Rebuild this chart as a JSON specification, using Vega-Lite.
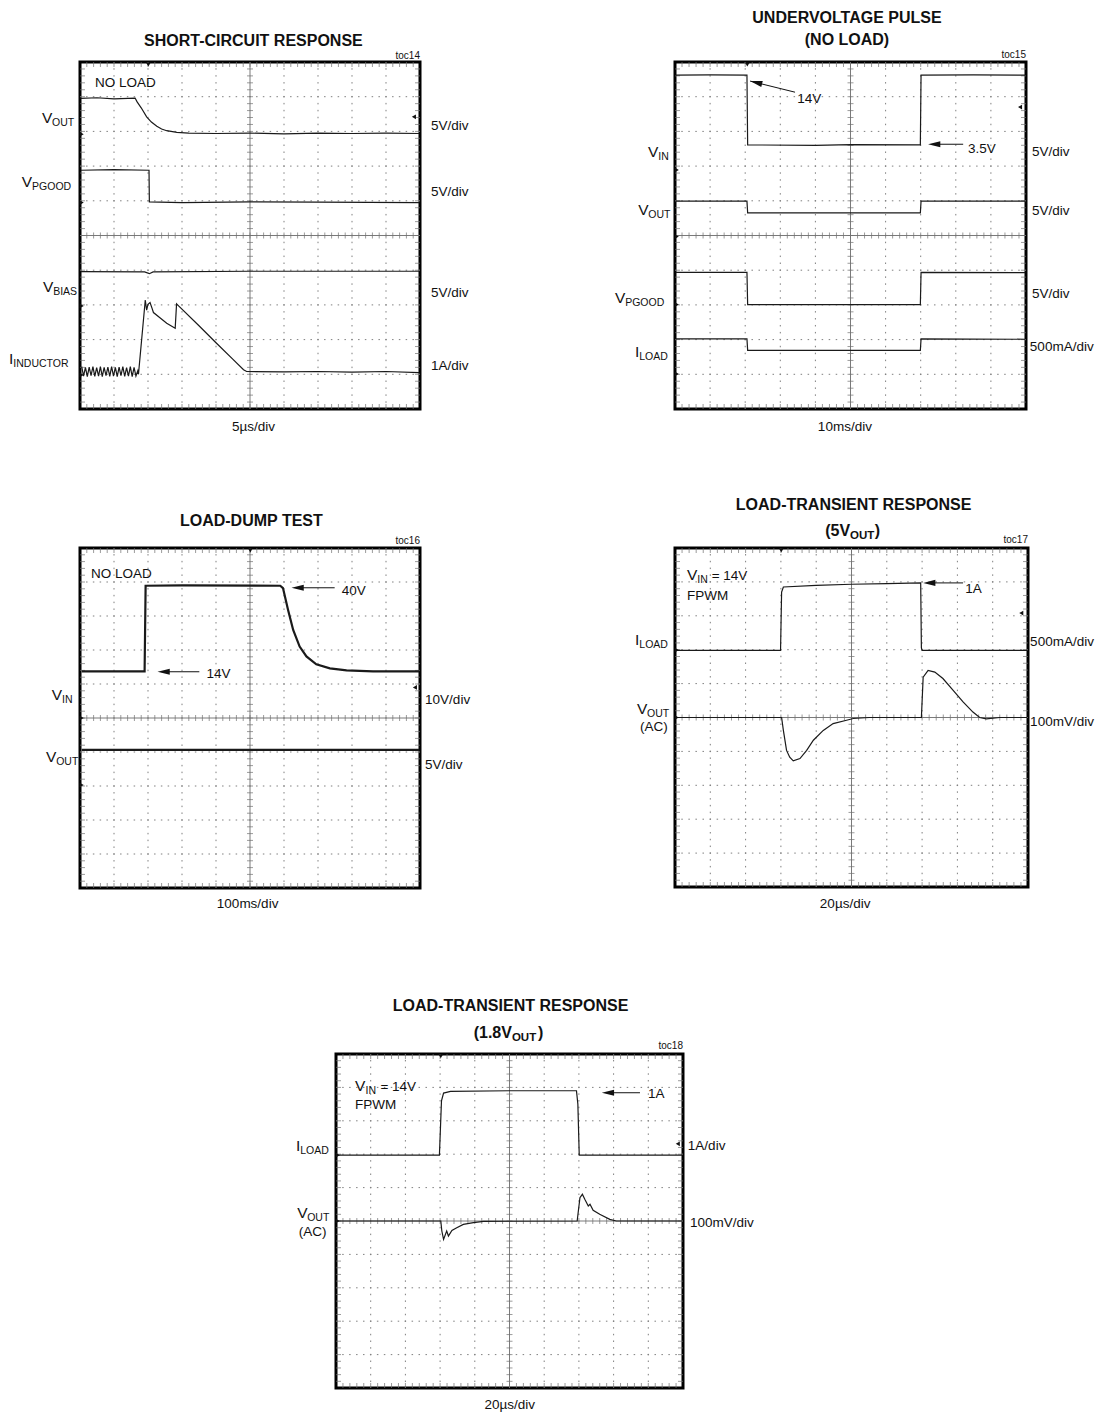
{
"$schema": "https://vega.github.io/schema/vega-lite/v6.json",
"padding": {"left": 7, "top": 8, "right": 2, "bottom": 0},
"config": {
  "view": {"stroke": null},
  "text": {"font": "Liberation Sans", "fontSize": 13.5, "align": "left", "baseline": "alphabetic", "color": "#111111"}
},
"datasets": {
  "ticks": [{"p":0.2},{"p":0.4},{"p":0.6},{"p":0.8},{"p":1.0},{"p":1.2},{"p":1.4},{"p":1.6},{"p":1.8},{"p":2.0},{"p":2.2},{"p":2.4},{"p":2.6},{"p":2.8},{"p":3.0},{"p":3.2},{"p":3.4},{"p":3.6},{"p":3.8},{"p":4.0},{"p":4.2},{"p":4.4},{"p":4.6},{"p":4.8},{"p":5.0},{"p":5.2},{"p":5.4},{"p":5.6},{"p":5.8},{"p":6.0},{"p":6.2},{"p":6.4},{"p":6.6},{"p":6.8},{"p":7.0},{"p":7.2},{"p":7.4},{"p":7.6},{"p":7.8},{"p":8.0},{"p":8.2},{"p":8.4},{"p":8.6},{"p":8.8},{"p":9.0},{"p":9.2},{"p":9.4},{"p":9.6},{"p":9.8}],
  "grid": [{"g":1},{"g":2},{"g":3},{"g":4},{"g":6},{"g":7},{"g":8},{"g":9}]
},
"spacing": 83,
"vconcat": [
{
"spacing": 59,
"vconcat": [
{
"spacing": 255,
"bounds": "flush",
"hconcat": [
{
 "width": 340, "height": 347,
 "view": {"stroke": "#000000", "strokeWidth": 3},
 "layer": [
  {"data": {"name": "grid"}, "mark": {"type": "rule", "color": "#7f7f7f", "strokeWidth": 1, "strokeDash": [1.5, 5.44], "strokeDashOffset": 0.75}, "encoding": {"x": {"field": "g", "type": "quantitative", "axis": null, "scale": {"domain": [0, 10], "nice": false, "zero": false}}}},
  {"data": {"name": "grid"}, "mark": {"type": "rule", "color": "#7f7f7f", "strokeWidth": 1, "strokeDash": [1.5, 5.3], "strokeDashOffset": 0.75}, "encoding": {"y": {"field": "g", "type": "quantitative", "axis": null, "scale": {"domain": [0, 10], "nice": false, "zero": false}}}},
  {"data": {"values": [{}]}, "mark": {"type": "rule", "color": "#7a7a7a", "strokeWidth": 1}, "encoding": {"x": {"datum": 5, "axis": null}}},
  {"data": {"values": [{}]}, "mark": {"type": "rule", "color": "#7a7a7a", "strokeWidth": 1}, "encoding": {"y": {"datum": 5, "axis": null}}},
  {"data": {"name": "ticks"}, "mark": {"type": "tick", "orient": "vertical", "size": 10, "thickness": 1, "color": "#707070", "clip": true}, "encoding": {"x": {"field": "p", "type": "quantitative", "axis": null}, "y": {"datum": 0, "axis": null}}},
  {"data": {"name": "ticks"}, "mark": {"type": "tick", "orient": "vertical", "size": 10, "thickness": 1, "color": "#707070", "clip": true}, "encoding": {"x": {"field": "p", "type": "quantitative", "axis": null}, "y": {"datum": 10, "axis": null}}},
  {"data": {"name": "ticks"}, "mark": {"type": "tick", "orient": "vertical", "size": 6, "thickness": 1, "color": "#707070"}, "encoding": {"x": {"field": "p", "type": "quantitative", "axis": null}, "y": {"datum": 5, "axis": null}}},
  {"data": {"name": "ticks"}, "mark": {"type": "tick", "orient": "horizontal", "size": 10, "thickness": 1, "color": "#707070", "clip": true}, "encoding": {"y": {"field": "p", "type": "quantitative", "axis": null}, "x": {"datum": 0, "axis": null}}},
  {"data": {"name": "ticks"}, "mark": {"type": "tick", "orient": "horizontal", "size": 10, "thickness": 1, "color": "#707070", "clip": true}, "encoding": {"y": {"field": "p", "type": "quantitative", "axis": null}, "x": {"datum": 10, "axis": null}}},
  {"data": {"name": "ticks"}, "mark": {"type": "tick", "orient": "horizontal", "size": 6, "thickness": 1, "color": "#707070"}, "encoding": {"y": {"field": "p", "type": "quantitative", "axis": null}, "x": {"datum": 5, "axis": null}}},
  {"data": {"values": [
    {"s":"vout","x":0.02,"y":8.95},{"s":"vout","x":0.5,"y":8.97},{"s":"vout","x":1.0,"y":8.94},{"s":"vout","x":1.62,"y":8.96},{"s":"vout","x":1.68,"y":8.85},{"s":"vout","x":1.80,"y":8.68},{"s":"vout","x":1.96,"y":8.42},{"s":"vout","x":2.10,"y":8.27},{"s":"vout","x":2.26,"y":8.15},{"s":"vout","x":2.40,"y":8.07},{"s":"vout","x":2.55,"y":8.02},{"s":"vout","x":2.85,"y":7.97},{"s":"vout","x":3.2,"y":7.95},{"s":"vout","x":4.0,"y":7.94},{"s":"vout","x":5.0,"y":7.95},{"s":"vout","x":6.0,"y":7.93},{"s":"vout","x":7.0,"y":7.95},{"s":"vout","x":8.0,"y":7.94},{"s":"vout","x":9.0,"y":7.95},{"s":"vout","x":9.98,"y":7.94},
    {"s":"pgood","x":0.02,"y":6.88},{"s":"pgood","x":1.0,"y":6.90},{"s":"pgood","x":2.03,"y":6.88},{"s":"pgood","x":2.04,"y":5.97},{"s":"pgood","x":3.0,"y":5.95},{"s":"pgood","x":5.0,"y":5.97},{"s":"pgood","x":7.0,"y":5.96},{"s":"pgood","x":9.98,"y":5.95},
    {"s":"bias","x":0.02,"y":3.96},{"s":"bias","x":1.9,"y":3.95},{"s":"bias","x":2.04,"y":3.90},{"s":"bias","x":2.15,"y":3.95},{"s":"bias","x":5.0,"y":3.97},{"s":"bias","x":9.98,"y":3.97},
    {"s":"ind","x":0.05,"y":1.22},{"s":"ind","x":0.105,"y":0.95},{"s":"ind","x":0.16,"y":1.20},{"s":"ind","x":0.215,"y":0.93},{"s":"ind","x":0.27,"y":1.21},{"s":"ind","x":0.325,"y":0.96},{"s":"ind","x":0.38,"y":1.22},{"s":"ind","x":0.435,"y":0.94},{"s":"ind","x":0.49,"y":1.19},{"s":"ind","x":0.545,"y":0.95},{"s":"ind","x":0.60,"y":1.22},{"s":"ind","x":0.655,"y":0.93},{"s":"ind","x":0.71,"y":1.20},{"s":"ind","x":0.765,"y":0.96},{"s":"ind","x":0.82,"y":1.21},{"s":"ind","x":0.875,"y":0.94},{"s":"ind","x":0.93,"y":1.22},{"s":"ind","x":0.985,"y":0.95},{"s":"ind","x":1.04,"y":1.20},{"s":"ind","x":1.095,"y":0.93},{"s":"ind","x":1.15,"y":1.21},{"s":"ind","x":1.205,"y":0.96},{"s":"ind","x":1.26,"y":1.22},{"s":"ind","x":1.315,"y":0.94},{"s":"ind","x":1.37,"y":1.19},{"s":"ind","x":1.425,"y":0.95},{"s":"ind","x":1.48,"y":1.22},{"s":"ind","x":1.535,"y":0.93},{"s":"ind","x":1.59,"y":1.20},{"s":"ind","x":1.645,"y":0.95},{"s":"ind","x":1.70,"y":1.10},{"s":"ind","x":1.72,"y":1.0},{"s":"ind","x":1.92,"y":3.14},{"s":"ind","x":1.96,"y":2.85},{"s":"ind","x":2.0,"y":3.02},{"s":"ind","x":2.06,"y":3.07},{"s":"ind","x":2.12,"y":2.9},{"s":"ind","x":2.16,"y":2.78},{"s":"ind","x":2.36,"y":2.62},{"s":"ind","x":2.55,"y":2.47},{"s":"ind","x":2.80,"y":2.33},{"s":"ind","x":2.84,"y":3.03},{"s":"ind","x":2.90,"y":2.97},{"s":"ind","x":3.5,"y":2.40},{"s":"ind","x":4.0,"y":1.91},{"s":"ind","x":4.5,"y":1.43},{"s":"ind","x":4.81,"y":1.13},{"s":"ind","x":4.9,"y":1.08},{"s":"ind","x":6.0,"y":1.07},{"s":"ind","x":7.0,"y":1.08},{"s":"ind","x":8.0,"y":1.06},{"s":"ind","x":9.0,"y":1.08},{"s":"ind","x":9.98,"y":1.05}
   ]},
   "mark": {"type": "line", "color": "#1a1a1a", "strokeWidth": 1.2},
   "encoding": {"x": {"field": "x", "type": "quantitative", "axis": null}, "y": {"field": "y", "type": "quantitative", "axis": null}, "detail": {"field": "s", "type": "nominal"}}},
  {"data": {"values": [{"k":"g","x":0.05,"y":7.92},{"k":"g","x":0.05,"y":5.95},{"k":"g","x":0.05,"y":2.97},{"k":"g","x":0.05,"y":0.98},{"k":"t","x":2.01,"y":9.93},{"k":"l","x":9.82,"y":8.42}]},
   "mark": {"type": "point", "filled": true, "color": "#111111", "size": 22, "opacity": 1},
   "encoding": {"x": {"field": "x", "type": "quantitative", "axis": null}, "y": {"field": "y", "type": "quantitative", "axis": null}, "shape": {"field": "k", "type": "nominal", "scale": {"domain": ["g", "t", "l"], "range": ["triangle-right", "triangle-down", "triangle-left"]}, "legend": null}}},
  {"data": {"values": [{"t":"V","x":-1.12,"y":8.24},{"t":"V","x":-1.71,"y":6.40},{"t":"V","x":-1.09,"y":3.37},{"t":"I","x":-2.09,"y":1.30}]},
   "mark": {"type": "text", "fontSize": 15.5},
   "encoding": {"x": {"field": "x", "type": "quantitative", "axis": null}, "y": {"field": "y", "type": "quantitative", "axis": null}, "text": {"field": "t", "type": "nominal"}}},
  {"data": {"values": [{"t":"5V/div","x":10.32,"y":8.04},{"t":"5V/div","x":10.32,"y":6.14},{"t":"5V/div","x":10.32,"y":3.23},{"t":"1A/div","x":10.32,"y":1.12},{"t":"NO LOAD","x":0.44,"y":9.28}]},
   "mark": {"type": "text"},
   "encoding": {"x": {"field": "x", "type": "quantitative", "axis": null}, "y": {"field": "y", "type": "quantitative", "axis": null}, "text": {"field": "t", "type": "nominal"}}},
  {"data": {"values": [{"t":"OUT","x":-0.82,"y":8.24},{"t":"PGOOD","x":-1.41,"y":6.40},{"t":"BIAS","x":-0.79,"y":3.37},{"t":"INDUCTOR","x":-1.96,"y":1.30}]},
   "mark": {"type": "text", "fontSize": 10.5, "dy": 3},
   "encoding": {"x": {"field": "x", "type": "quantitative", "axis": null}, "y": {"field": "y", "type": "quantitative", "axis": null}, "text": {"field": "t", "type": "nominal"}}},
  {"data": {"values": [{"t":"5µs/div","x":5.1,"y":-0.63}]},
   "mark": {"type": "text", "align": "center"},
   "encoding": {"x": {"field": "x", "type": "quantitative", "axis": null}, "y": {"field": "y", "type": "quantitative", "axis": null}, "text": {"field": "t", "type": "nominal"}}},
  {"data": {"values": [{"t":"toc14","x":10,"y":10.09}]},
   "mark": {"type": "text", "align": "right", "fontSize": 10},
   "encoding": {"x": {"field": "x", "type": "quantitative", "axis": null}, "y": {"field": "y", "type": "quantitative", "axis": null}, "text": {"field": "t", "type": "nominal"}}},
  {"data": {"values": [{"t":"SHORT-CIRCUIT RESPONSE","x":5.1,"y":10.46}]},
   "mark": {"type": "text", "align": "center", "fontSize": 16, "fontWeight": "bold"},
   "encoding": {"x": {"field": "x", "type": "quantitative", "axis": null}, "y": {"field": "y", "type": "quantitative", "axis": null}, "text": {"field": "t", "type": "nominal"}}}
 ]
},
{
 "width": 351, "height": 347,
 "view": {"stroke": "#000000", "strokeWidth": 3},
 "layer": [
  {"data": {"name": "grid"}, "mark": {"type": "rule", "color": "#7f7f7f", "strokeWidth": 1, "strokeDash": [1.5, 5.44], "strokeDashOffset": 0.75}, "encoding": {"x": {"field": "g", "type": "quantitative", "axis": null, "scale": {"domain": [0, 10], "nice": false, "zero": false}}}},
  {"data": {"name": "grid"}, "mark": {"type": "rule", "color": "#7f7f7f", "strokeWidth": 1, "strokeDash": [1.5, 5.52], "strokeDashOffset": 0.75}, "encoding": {"y": {"field": "g", "type": "quantitative", "axis": null, "scale": {"domain": [0, 10], "nice": false, "zero": false}}}},
  {"data": {"values": [{}]}, "mark": {"type": "rule", "color": "#7a7a7a", "strokeWidth": 1}, "encoding": {"x": {"datum": 5, "axis": null}}},
  {"data": {"values": [{}]}, "mark": {"type": "rule", "color": "#7a7a7a", "strokeWidth": 1}, "encoding": {"y": {"datum": 5, "axis": null}}},
  {"data": {"name": "ticks"}, "mark": {"type": "tick", "orient": "vertical", "size": 10, "thickness": 1, "color": "#707070", "clip": true}, "encoding": {"x": {"field": "p", "type": "quantitative", "axis": null}, "y": {"datum": 0, "axis": null}}},
  {"data": {"name": "ticks"}, "mark": {"type": "tick", "orient": "vertical", "size": 10, "thickness": 1, "color": "#707070", "clip": true}, "encoding": {"x": {"field": "p", "type": "quantitative", "axis": null}, "y": {"datum": 10, "axis": null}}},
  {"data": {"name": "ticks"}, "mark": {"type": "tick", "orient": "vertical", "size": 6, "thickness": 1, "color": "#707070"}, "encoding": {"x": {"field": "p", "type": "quantitative", "axis": null}, "y": {"datum": 5, "axis": null}}},
  {"data": {"name": "ticks"}, "mark": {"type": "tick", "orient": "horizontal", "size": 10, "thickness": 1, "color": "#707070", "clip": true}, "encoding": {"y": {"field": "p", "type": "quantitative", "axis": null}, "x": {"datum": 0, "axis": null}}},
  {"data": {"name": "ticks"}, "mark": {"type": "tick", "orient": "horizontal", "size": 10, "thickness": 1, "color": "#707070", "clip": true}, "encoding": {"y": {"field": "p", "type": "quantitative", "axis": null}, "x": {"datum": 10, "axis": null}}},
  {"data": {"name": "ticks"}, "mark": {"type": "tick", "orient": "horizontal", "size": 6, "thickness": 1, "color": "#707070"}, "encoding": {"y": {"field": "p", "type": "quantitative", "axis": null}, "x": {"datum": 5, "axis": null}}},
  {"data": {"values": [
    {"s":"vin","x":0.02,"y":9.62},{"s":"vin","x":1.0,"y":9.63},{"s":"vin","x":2.05,"y":9.62},{"s":"vin","x":2.07,"y":7.61},{"s":"vin","x":4.0,"y":7.60},{"s":"vin","x":5.0,"y":7.62},{"s":"vin","x":6.99,"y":7.61},{"s":"vin","x":7.01,"y":9.62},{"s":"vin","x":8.5,"y":9.63},{"s":"vin","x":9.98,"y":9.62},
    {"s":"vout","x":0.02,"y":5.99},{"s":"vout","x":2.05,"y":5.99},{"s":"vout","x":2.07,"y":5.65},{"s":"vout","x":6.99,"y":5.65},{"s":"vout","x":7.01,"y":5.99},{"s":"vout","x":9.98,"y":5.99},
    {"s":"pgood","x":0.02,"y":3.94},{"s":"pgood","x":2.05,"y":3.94},{"s":"pgood","x":2.07,"y":3.01},{"s":"pgood","x":6.99,"y":3.01},{"s":"pgood","x":7.01,"y":3.94},{"s":"pgood","x":9.98,"y":3.93},
    {"s":"iload","x":0.02,"y":2.02},{"s":"iload","x":2.05,"y":2.02},{"s":"iload","x":2.07,"y":1.69},{"s":"iload","x":6.99,"y":1.69},{"s":"iload","x":7.01,"y":2.02},{"s":"iload","x":9.98,"y":2.01}
   ]},
   "mark": {"type": "line", "color": "#1a1a1a", "strokeWidth": 1.2},
   "encoding": {"x": {"field": "x", "type": "quantitative", "axis": null}, "y": {"field": "y", "type": "quantitative", "axis": null}, "detail": {"field": "s", "type": "nominal"}}},
  {"data": {"values": [{"k":"g","x":0.05,"y":6.89},{"k":"g","x":0.05,"y":4.97},{"k":"g","x":0.05,"y":3.01},{"k":"g","x":0.05,"y":1.01},{"k":"t","x":2.06,"y":9.93},{"k":"l","x":9.83,"y":8.70}]},
   "mark": {"type": "point", "filled": true, "color": "#111111", "size": 22, "opacity": 1},
   "encoding": {"x": {"field": "x", "type": "quantitative", "axis": null}, "y": {"field": "y", "type": "quantitative", "axis": null}, "shape": {"field": "k", "type": "nominal", "scale": {"domain": ["g", "t", "l"], "range": ["triangle-right", "triangle-down", "triangle-left"]}, "legend": null}}},
  {"data": {"values": [{"x":3.42,"y":9.13,"x2":2.14,"y2":9.45},{"x":8.21,"y":7.63,"x2":7.4,"y2":7.63}]},
   "mark": {"type": "rule", "color": "#111111", "strokeWidth": 1},
   "encoding": {"x": {"field": "x", "type": "quantitative", "axis": null}, "y": {"field": "y", "type": "quantitative", "axis": null}, "x2": {"field": "x2"}, "y2": {"field": "y2"}}},
  {"data": {"values": [{"x":2.14,"y":9.45}]},
   "mark": {"type": "point", "shape": "M0,0L2,-0.5L2,0.5Z", "filled": true, "color": "#111111", "size": 150, "opacity": 1, "angle": 14},
   "encoding": {"x": {"field": "x", "type": "quantitative", "axis": null}, "y": {"field": "y", "type": "quantitative", "axis": null}}},
  {"data": {"values": [{"x":7.21,"y":7.63}]},
   "mark": {"type": "point", "shape": "M0,0L2,-0.5L2,0.5Z", "filled": true, "color": "#111111", "size": 150, "opacity": 1},
   "encoding": {"x": {"field": "x", "type": "quantitative", "axis": null}, "y": {"field": "y", "type": "quantitative", "axis": null}}},
  {"data": {"values": [{"t":"V","x":-0.77,"y":7.26},{"t":"V","x":-1.05,"y":5.59},{"t":"V","x":-1.71,"y":3.05},{"t":"I","x":-1.14,"y":1.50}]},
   "mark": {"type": "text", "fontSize": 15.5},
   "encoding": {"x": {"field": "x", "type": "quantitative", "axis": null}, "y": {"field": "y", "type": "quantitative", "axis": null}, "text": {"field": "t", "type": "nominal"}}},
  {"data": {"values": [{"t":"5V/div","x":10.17,"y":7.29},{"t":"5V/div","x":10.17,"y":5.59},{"t":"5V/div","x":10.17,"y":3.20},{"t":"500mA/div","x":10.11,"y":1.67},{"t":"14V","x":3.48,"y":8.82},{"t":"3.5V","x":8.35,"y":7.38}]},
   "mark": {"type": "text"},
   "encoding": {"x": {"field": "x", "type": "quantitative", "axis": null}, "y": {"field": "y", "type": "quantitative", "axis": null}, "text": {"field": "t", "type": "nominal"}}},
  {"data": {"values": [{"t":"IN","x":-0.475,"y":7.26},{"t":"OUT","x":-0.76,"y":5.59},{"t":"PGOOD","x":-1.42,"y":3.05},{"t":"LOAD","x":-1.02,"y":1.50}]},
   "mark": {"type": "text", "fontSize": 10.5, "dy": 3},
   "encoding": {"x": {"field": "x", "type": "quantitative", "axis": null}, "y": {"field": "y", "type": "quantitative", "axis": null}, "text": {"field": "t", "type": "nominal"}}},
  {"data": {"values": [{"t":"10ms/div","x":4.84,"y":-0.64}]},
   "mark": {"type": "text", "align": "center"},
   "encoding": {"x": {"field": "x", "type": "quantitative", "axis": null}, "y": {"field": "y", "type": "quantitative", "axis": null}, "text": {"field": "t", "type": "nominal"}}},
  {"data": {"values": [{"t":"toc15","x":10,"y":10.12}]},
   "mark": {"type": "text", "align": "right", "fontSize": 10},
   "encoding": {"x": {"field": "x", "type": "quantitative", "axis": null}, "y": {"field": "y", "type": "quantitative", "axis": null}, "text": {"field": "t", "type": "nominal"}}},
  {"data": {"values": [{"t":"UNDERVOLTAGE PULSE","x":4.9,"y":11.13},{"t":"(NO LOAD)","x":4.9,"y":10.49}]},
   "mark": {"type": "text", "align": "center", "fontSize": 16, "fontWeight": "bold"},
   "encoding": {"x": {"field": "x", "type": "quantitative", "axis": null}, "y": {"field": "y", "type": "quantitative", "axis": null}, "text": {"field": "t", "type": "nominal"}}}
 ]
}
]
},
{
"spacing": 255,
"bounds": "flush",
"hconcat": [
{
 "width": 340, "height": 340,
 "view": {"stroke": "#000000", "strokeWidth": 3},
 "layer": [
  {"data": {"name": "grid"}, "mark": {"type": "rule", "color": "#7f7f7f", "strokeWidth": 1, "strokeDash": [1.5, 5.3], "strokeDashOffset": 0.75}, "encoding": {"x": {"field": "g", "type": "quantitative", "axis": null, "scale": {"domain": [0, 10], "nice": false, "zero": false}}}},
  {"data": {"name": "grid"}, "mark": {"type": "rule", "color": "#7f7f7f", "strokeWidth": 1, "strokeDash": [1.5, 5.3], "strokeDashOffset": 0.75}, "encoding": {"y": {"field": "g", "type": "quantitative", "axis": null, "scale": {"domain": [0, 10], "nice": false, "zero": false}}}},
  {"data": {"values": [{}]}, "mark": {"type": "rule", "color": "#7a7a7a", "strokeWidth": 1}, "encoding": {"x": {"datum": 5, "axis": null}}},
  {"data": {"values": [{}]}, "mark": {"type": "rule", "color": "#7a7a7a", "strokeWidth": 1}, "encoding": {"y": {"datum": 5, "axis": null}}},
  {"data": {"name": "ticks"}, "mark": {"type": "tick", "orient": "vertical", "size": 10, "thickness": 1, "color": "#707070", "clip": true}, "encoding": {"x": {"field": "p", "type": "quantitative", "axis": null}, "y": {"datum": 0, "axis": null}}},
  {"data": {"name": "ticks"}, "mark": {"type": "tick", "orient": "vertical", "size": 10, "thickness": 1, "color": "#707070", "clip": true}, "encoding": {"x": {"field": "p", "type": "quantitative", "axis": null}, "y": {"datum": 10, "axis": null}}},
  {"data": {"name": "ticks"}, "mark": {"type": "tick", "orient": "vertical", "size": 6, "thickness": 1, "color": "#707070"}, "encoding": {"x": {"field": "p", "type": "quantitative", "axis": null}, "y": {"datum": 5, "axis": null}}},
  {"data": {"name": "ticks"}, "mark": {"type": "tick", "orient": "horizontal", "size": 10, "thickness": 1, "color": "#707070", "clip": true}, "encoding": {"y": {"field": "p", "type": "quantitative", "axis": null}, "x": {"datum": 0, "axis": null}}},
  {"data": {"name": "ticks"}, "mark": {"type": "tick", "orient": "horizontal", "size": 10, "thickness": 1, "color": "#707070", "clip": true}, "encoding": {"y": {"field": "p", "type": "quantitative", "axis": null}, "x": {"datum": 10, "axis": null}}},
  {"data": {"name": "ticks"}, "mark": {"type": "tick", "orient": "horizontal", "size": 6, "thickness": 1, "color": "#707070"}, "encoding": {"y": {"field": "p", "type": "quantitative", "axis": null}, "x": {"datum": 5, "axis": null}}},
  {"data": {"values": [
    {"s":"vin","x":0.05,"y":6.37},{"s":"vin","x":1.9,"y":6.37},{"s":"vin","x":1.93,"y":8.89},{"s":"vin","x":3.0,"y":8.90},{"s":"vin","x":5.89,"y":8.89},{"s":"vin","x":5.97,"y":8.82},{"s":"vin","x":6.12,"y":8.18},{"s":"vin","x":6.27,"y":7.59},{"s":"vin","x":6.46,"y":7.10},{"s":"vin","x":6.66,"y":6.81},{"s":"vin","x":6.95,"y":6.58},{"s":"vin","x":7.35,"y":6.46},{"s":"vin","x":7.84,"y":6.40},{"s":"vin","x":8.62,"y":6.37},{"s":"vin","x":9.98,"y":6.37},
    {"s":"vout","x":0.05,"y":4.06},{"s":"vout","x":9.98,"y":4.06}
   ]},
   "mark": {"type": "line", "color": "#1a1a1a", "strokeWidth": 2.2},
   "encoding": {"x": {"field": "x", "type": "quantitative", "axis": null}, "y": {"field": "y", "type": "quantitative", "axis": null}, "detail": {"field": "s", "type": "nominal"}}},
  {"data": {"values": [{"k":"g","x":0.05,"y":5.0},{"k":"g","x":0.05,"y":3.03},{"k":"t","x":5.01,"y":9.93},{"k":"l","x":9.85,"y":5.9}]},
   "mark": {"type": "point", "filled": true, "color": "#111111", "size": 22, "opacity": 1},
   "encoding": {"x": {"field": "x", "type": "quantitative", "axis": null}, "y": {"field": "y", "type": "quantitative", "axis": null}, "shape": {"field": "k", "type": "nominal", "scale": {"domain": ["g", "t", "l"], "range": ["triangle-right", "triangle-down", "triangle-left"]}, "legend": null}}},
  {"data": {"values": [{"x":7.49,"y":8.83,"x2":6.4,"y2":8.83},{"x":3.51,"y":6.36,"x2":2.4,"y2":6.36}]},
   "mark": {"type": "rule", "color": "#111111", "strokeWidth": 1},
   "encoding": {"x": {"field": "x", "type": "quantitative", "axis": null}, "y": {"field": "y", "type": "quantitative", "axis": null}, "x2": {"field": "x2"}, "y2": {"field": "y2"}}},
  {"data": {"values": [{"x":6.22,"y":8.83},{"x":2.28,"y":6.36}]},
   "mark": {"type": "point", "shape": "M0,0L2,-0.5L2,0.5Z", "filled": true, "color": "#111111", "size": 150, "opacity": 1},
   "encoding": {"x": {"field": "x", "type": "quantitative", "axis": null}, "y": {"field": "y", "type": "quantitative", "axis": null}}},
  {"data": {"values": [{"t":"V","x":-0.83,"y":5.53},{"t":"V","x":-1.0,"y":3.71}]},
   "mark": {"type": "text", "fontSize": 15.5},
   "encoding": {"x": {"field": "x", "type": "quantitative", "axis": null}, "y": {"field": "y", "type": "quantitative", "axis": null}, "text": {"field": "t", "type": "nominal"}}},
  {"data": {"values": [{"t":"10V/div","x":10.15,"y":5.41},{"t":"5V/div","x":10.15,"y":3.50},{"t":"NO LOAD","x":0.32,"y":9.12},{"t":"40V","x":7.70,"y":8.62},{"t":"14V","x":3.72,"y":6.18}]},
   "mark": {"type": "text"},
   "encoding": {"x": {"field": "x", "type": "quantitative", "axis": null}, "y": {"field": "y", "type": "quantitative", "axis": null}, "text": {"field": "t", "type": "nominal"}}},
  {"data": {"values": [{"t":"IN","x":-0.53,"y":5.53},{"t":"OUT","x":-0.70,"y":3.71}]},
   "mark": {"type": "text", "fontSize": 10.5, "dy": 3},
   "encoding": {"x": {"field": "x", "type": "quantitative", "axis": null}, "y": {"field": "y", "type": "quantitative", "axis": null}, "text": {"field": "t", "type": "nominal"}}},
  {"data": {"values": [{"t":"100ms/div","x":4.93,"y":-0.59}]},
   "mark": {"type": "text", "align": "center"},
   "encoding": {"x": {"field": "x", "type": "quantitative", "axis": null}, "y": {"field": "y", "type": "quantitative", "axis": null}, "text": {"field": "t", "type": "nominal"}}},
  {"data": {"values": [{"t":"toc16","x":10,"y":10.12}]},
   "mark": {"type": "text", "align": "right", "fontSize": 10},
   "encoding": {"x": {"field": "x", "type": "quantitative", "axis": null}, "y": {"field": "y", "type": "quantitative", "axis": null}, "text": {"field": "t", "type": "nominal"}}},
  {"data": {"values": [{"t":"LOAD-DUMP TEST","x":5.04,"y":10.65}]},
   "mark": {"type": "text", "align": "center", "fontSize": 16, "fontWeight": "bold"},
   "encoding": {"x": {"field": "x", "type": "quantitative", "axis": null}, "y": {"field": "y", "type": "quantitative", "axis": null}, "text": {"field": "t", "type": "nominal"}}}
 ]
},
{
 "width": 353, "height": 339,
 "view": {"stroke": "#000000", "strokeWidth": 3},
 "layer": [
  {"data": {"name": "grid"}, "mark": {"type": "rule", "color": "#7f7f7f", "strokeWidth": 1, "strokeDash": [1.5, 5.28], "strokeDashOffset": 0.75}, "encoding": {"x": {"field": "g", "type": "quantitative", "axis": null, "scale": {"domain": [0, 10], "nice": false, "zero": false}}}},
  {"data": {"name": "grid"}, "mark": {"type": "rule", "color": "#7f7f7f", "strokeWidth": 1, "strokeDash": [1.5, 5.56], "strokeDashOffset": 0.75}, "encoding": {"y": {"field": "g", "type": "quantitative", "axis": null, "scale": {"domain": [0, 10], "nice": false, "zero": false}}}},
  {"data": {"values": [{}]}, "mark": {"type": "rule", "color": "#7a7a7a", "strokeWidth": 1}, "encoding": {"x": {"datum": 5, "axis": null}}},
  {"data": {"values": [{}]}, "mark": {"type": "rule", "color": "#7a7a7a", "strokeWidth": 1}, "encoding": {"y": {"datum": 5, "axis": null}}},
  {"data": {"name": "ticks"}, "mark": {"type": "tick", "orient": "vertical", "size": 10, "thickness": 1, "color": "#707070", "clip": true}, "encoding": {"x": {"field": "p", "type": "quantitative", "axis": null}, "y": {"datum": 0, "axis": null}}},
  {"data": {"name": "ticks"}, "mark": {"type": "tick", "orient": "vertical", "size": 10, "thickness": 1, "color": "#707070", "clip": true}, "encoding": {"x": {"field": "p", "type": "quantitative", "axis": null}, "y": {"datum": 10, "axis": null}}},
  {"data": {"name": "ticks"}, "mark": {"type": "tick", "orient": "vertical", "size": 6, "thickness": 1, "color": "#707070"}, "encoding": {"x": {"field": "p", "type": "quantitative", "axis": null}, "y": {"datum": 5, "axis": null}}},
  {"data": {"name": "ticks"}, "mark": {"type": "tick", "orient": "horizontal", "size": 10, "thickness": 1, "color": "#707070", "clip": true}, "encoding": {"y": {"field": "p", "type": "quantitative", "axis": null}, "x": {"datum": 0, "axis": null}}},
  {"data": {"name": "ticks"}, "mark": {"type": "tick", "orient": "horizontal", "size": 10, "thickness": 1, "color": "#707070", "clip": true}, "encoding": {"y": {"field": "p", "type": "quantitative", "axis": null}, "x": {"datum": 10, "axis": null}}},
  {"data": {"name": "ticks"}, "mark": {"type": "tick", "orient": "horizontal", "size": 6, "thickness": 1, "color": "#707070"}, "encoding": {"y": {"field": "p", "type": "quantitative", "axis": null}, "x": {"datum": 5, "axis": null}}},
  {"data": {"values": [
    {"s":"iload","x":0.02,"y":6.98},{"s":"iload","x":2.99,"y":6.98},{"s":"iload","x":3.02,"y":8.70},{"s":"iload","x":3.07,"y":8.85},{"s":"iload","x":4.0,"y":8.90},{"s":"iload","x":5.0,"y":8.93},{"s":"iload","x":6.0,"y":8.95},{"s":"iload","x":6.96,"y":8.97},{"s":"iload","x":6.98,"y":7.05},{"s":"iload","x":7.0,"y":6.98},{"s":"iload","x":9.98,"y":6.98},
    {"s":"vout","x":0.02,"y":5.0},{"s":"vout","x":3.02,"y":5.0},{"s":"vout","x":3.07,"y":4.62},{"s":"vout","x":3.16,"y":4.03},{"s":"vout","x":3.25,"y":3.83},{"s":"vout","x":3.35,"y":3.72},{"s":"vout","x":3.54,"y":3.79},{"s":"vout","x":3.73,"y":4.03},{"s":"vout","x":3.92,"y":4.33},{"s":"vout","x":4.20,"y":4.62},{"s":"vout","x":4.48,"y":4.82},{"s":"vout","x":4.86,"y":4.92},{"s":"vout","x":5.05,"y":4.97},{"s":"vout","x":5.5,"y":5.0},{"s":"vout","x":6.98,"y":5.0},{"s":"vout","x":7.03,"y":6.19},{"s":"vout","x":7.17,"y":6.39},{"s":"vout","x":7.36,"y":6.34},{"s":"vout","x":7.59,"y":6.15},{"s":"vout","x":7.88,"y":5.80},{"s":"vout","x":8.16,"y":5.46},{"s":"vout","x":8.44,"y":5.16},{"s":"vout","x":8.63,"y":5.0},{"s":"vout","x":8.82,"y":4.96},{"s":"vout","x":9.2,"y":5.0},{"s":"vout","x":9.98,"y":5.0}
   ]},
   "mark": {"type": "line", "color": "#1a1a1a", "strokeWidth": 1.2},
   "encoding": {"x": {"field": "x", "type": "quantitative", "axis": null}, "y": {"field": "y", "type": "quantitative", "axis": null}, "detail": {"field": "s", "type": "nominal"}}},
  {"data": {"values": [{"k":"g","x":0.05,"y":6.99},{"k":"g","x":0.05,"y":5.0},{"k":"t","x":3.01,"y":9.93},{"k":"l","x":9.81,"y":8.08}]},
   "mark": {"type": "point", "filled": true, "color": "#111111", "size": 22, "opacity": 1},
   "encoding": {"x": {"field": "x", "type": "quantitative", "axis": null}, "y": {"field": "y", "type": "quantitative", "axis": null}, "shape": {"field": "k", "type": "nominal", "scale": {"domain": ["g", "t", "l"], "range": ["triangle-right", "triangle-down", "triangle-left"]}, "legend": null}}},
  {"data": {"values": [{"x":8.16,"y":8.97,"x2":7.2,"y2":8.97}]},
   "mark": {"type": "rule", "color": "#111111", "strokeWidth": 1},
   "encoding": {"x": {"field": "x", "type": "quantitative", "axis": null}, "y": {"field": "y", "type": "quantitative", "axis": null}, "x2": {"field": "x2"}, "y2": {"field": "y2"}}},
  {"data": {"values": [{"x":7.03,"y":8.97}]},
   "mark": {"type": "point", "shape": "M0,0L2,-0.5L2,0.5Z", "filled": true, "color": "#111111", "size": 150, "opacity": 1},
   "encoding": {"x": {"field": "x", "type": "quantitative", "axis": null}, "y": {"field": "y", "type": "quantitative", "axis": null}}},
  {"data": {"values": [{"t":"I","x":-1.13,"y":7.14},{"t":"V","x":-1.08,"y":5.10},{"t":"V","x":0.34,"y":9.06}]},
   "mark": {"type": "text", "fontSize": 15.5},
   "encoding": {"x": {"field": "x", "type": "quantitative", "axis": null}, "y": {"field": "y", "type": "quantitative", "axis": null}, "text": {"field": "t", "type": "nominal"}}},
  {"data": {"values": [{"t":"(AC)","x":-0.99,"y":4.60},{"t":"500mA/div","x":10.06,"y":7.11},{"t":"100mV/div","x":10.06,"y":4.75},{"t":"= 14V","x":1.04,"y":9.06},{"t":"FPWM","x":0.34,"y":8.47},{"t":"1A","x":8.22,"y":8.67}]},
   "mark": {"type": "text"},
   "encoding": {"x": {"field": "x", "type": "quantitative", "axis": null}, "y": {"field": "y", "type": "quantitative", "axis": null}, "text": {"field": "t", "type": "nominal"}}},
  {"data": {"values": [{"t":"LOAD","x":-1.01,"y":7.14},{"t":"OUT","x":-0.79,"y":5.10},{"t":"IN","x":0.63,"y":9.06}]},
   "mark": {"type": "text", "fontSize": 10.5, "dy": 3},
   "encoding": {"x": {"field": "x", "type": "quantitative", "axis": null}, "y": {"field": "y", "type": "quantitative", "axis": null}, "text": {"field": "t", "type": "nominal"}}},
  {"data": {"values": [{"t":"20µs/div","x":4.82,"y":-0.62}]},
   "mark": {"type": "text", "align": "center"},
   "encoding": {"x": {"field": "x", "type": "quantitative", "axis": null}, "y": {"field": "y", "type": "quantitative", "axis": null}, "text": {"field": "t", "type": "nominal"}}},
  {"data": {"values": [{"t":"toc17","x":10,"y":10.15}]},
   "mark": {"type": "text", "align": "right", "fontSize": 10},
   "encoding": {"x": {"field": "x", "type": "quantitative", "axis": null}, "y": {"field": "y", "type": "quantitative", "axis": null}, "text": {"field": "t", "type": "nominal"}}},
  {"data": {"values": [{"t":"LOAD-TRANSIENT RESPONSE","x":5.06,"y":11.12}]},
   "mark": {"type": "text", "align": "center", "fontSize": 16, "fontWeight": "bold"},
   "encoding": {"x": {"field": "x", "type": "quantitative", "axis": null}, "y": {"field": "y", "type": "quantitative", "axis": null}, "text": {"field": "t", "type": "nominal"}}},
  {"data": {"values": [{"t":"(5V","x":4.96,"y":10.34}]},
   "mark": {"type": "text", "align": "right", "fontSize": 16, "fontWeight": "bold"},
   "encoding": {"x": {"field": "x", "type": "quantitative", "axis": null}, "y": {"field": "y", "type": "quantitative", "axis": null}, "text": {"field": "t", "type": "nominal"}}},
  {"data": {"values": [{"t":"OUT","x":4.96,"y":10.34}]},
   "mark": {"type": "text", "fontSize": 11.5, "fontWeight": "bold", "dy": 3},
   "encoding": {"x": {"field": "x", "type": "quantitative", "axis": null}, "y": {"field": "y", "type": "quantitative", "axis": null}, "text": {"field": "t", "type": "nominal"}}},
  {"data": {"values": [{"t":")","x":5.66,"y":10.34}]},
   "mark": {"type": "text", "fontSize": 16, "fontWeight": "bold"},
   "encoding": {"x": {"field": "x", "type": "quantitative", "axis": null}, "y": {"field": "y", "type": "quantitative", "axis": null}, "text": {"field": "t", "type": "nominal"}}}
 ]
}
]
}
]
},
{
"spacing": 255,
"bounds": "flush",
"hconcat": [
{"width": 1, "height": 1, "data": {"values": [{}]}, "mark": {"type": "point", "opacity": 0}, "view": {"stroke": null}},
{
 "width": 347, "height": 334,
 "view": {"stroke": "#000000", "strokeWidth": 3},
 "layer": [
  {"data": {"name": "grid"}, "mark": {"type": "rule", "color": "#7f7f7f", "strokeWidth": 1, "strokeDash": [1.5, 5.18], "strokeDashOffset": 0.75}, "encoding": {"x": {"field": "g", "type": "quantitative", "axis": null, "scale": {"domain": [0, 10], "nice": false, "zero": false}}}},
  {"data": {"name": "grid"}, "mark": {"type": "rule", "color": "#7f7f7f", "strokeWidth": 1, "strokeDash": [1.5, 5.44], "strokeDashOffset": 0.75}, "encoding": {"y": {"field": "g", "type": "quantitative", "axis": null, "scale": {"domain": [0, 10], "nice": false, "zero": false}}}},
  {"data": {"values": [{}]}, "mark": {"type": "rule", "color": "#7a7a7a", "strokeWidth": 1}, "encoding": {"x": {"datum": 5, "axis": null}}},
  {"data": {"values": [{}]}, "mark": {"type": "rule", "color": "#7a7a7a", "strokeWidth": 1}, "encoding": {"y": {"datum": 5, "axis": null}}},
  {"data": {"name": "ticks"}, "mark": {"type": "tick", "orient": "vertical", "size": 10, "thickness": 1, "color": "#707070", "clip": true}, "encoding": {"x": {"field": "p", "type": "quantitative", "axis": null}, "y": {"datum": 0, "axis": null}}},
  {"data": {"name": "ticks"}, "mark": {"type": "tick", "orient": "vertical", "size": 10, "thickness": 1, "color": "#707070", "clip": true}, "encoding": {"x": {"field": "p", "type": "quantitative", "axis": null}, "y": {"datum": 10, "axis": null}}},
  {"data": {"name": "ticks"}, "mark": {"type": "tick", "orient": "vertical", "size": 6, "thickness": 1, "color": "#707070"}, "encoding": {"x": {"field": "p", "type": "quantitative", "axis": null}, "y": {"datum": 5, "axis": null}}},
  {"data": {"name": "ticks"}, "mark": {"type": "tick", "orient": "horizontal", "size": 10, "thickness": 1, "color": "#707070", "clip": true}, "encoding": {"y": {"field": "p", "type": "quantitative", "axis": null}, "x": {"datum": 0, "axis": null}}},
  {"data": {"name": "ticks"}, "mark": {"type": "tick", "orient": "horizontal", "size": 10, "thickness": 1, "color": "#707070", "clip": true}, "encoding": {"y": {"field": "p", "type": "quantitative", "axis": null}, "x": {"datum": 10, "axis": null}}},
  {"data": {"name": "ticks"}, "mark": {"type": "tick", "orient": "horizontal", "size": 6, "thickness": 1, "color": "#707070"}, "encoding": {"y": {"field": "p", "type": "quantitative", "axis": null}, "x": {"datum": 5, "axis": null}}},
  {"data": {"values": [
    {"s":"iload","x":0.02,"y":6.97},{"s":"iload","x":2.98,"y":6.97},{"s":"iload","x":3.04,"y":8.60},{"s":"iload","x":3.10,"y":8.83},{"s":"iload","x":3.3,"y":8.88},{"s":"iload","x":5.0,"y":8.90},{"s":"iload","x":6.93,"y":8.90},{"s":"iload","x":6.97,"y":8.50},{"s":"iload","x":7.01,"y":6.97},{"s":"iload","x":9.98,"y":6.97},
    {"s":"vout","x":0.02,"y":5.0},{"s":"vout","x":3.02,"y":5.0},{"s":"vout","x":3.05,"y":4.70},{"s":"vout","x":3.10,"y":4.45},{"s":"vout","x":3.19,"y":4.70},{"s":"vout","x":3.24,"y":4.55},{"s":"vout","x":3.34,"y":4.72},{"s":"vout","x":3.48,"y":4.80},{"s":"vout","x":3.67,"y":4.90},{"s":"vout","x":3.96,"y":4.95},{"s":"vout","x":4.25,"y":4.99},{"s":"vout","x":6.95,"y":5.0},{"s":"vout","x":7.03,"y":5.70},{"s":"vout","x":7.10,"y":5.80},{"s":"vout","x":7.17,"y":5.65},{"s":"vout","x":7.27,"y":5.45},{"s":"vout","x":7.32,"y":5.50},{"s":"vout","x":7.41,"y":5.32},{"s":"vout","x":7.60,"y":5.20},{"s":"vout","x":7.89,"y":5.05},{"s":"vout","x":8.08,"y":5.0},{"s":"vout","x":9.98,"y":5.0}
   ]},
   "mark": {"type": "line", "color": "#1a1a1a", "strokeWidth": 1.2},
   "encoding": {"x": {"field": "x", "type": "quantitative", "axis": null}, "y": {"field": "y", "type": "quantitative", "axis": null}, "detail": {"field": "s", "type": "nominal"}}},
  {"data": {"values": [{"k":"g","x":0.05,"y":6.97},{"k":"g","x":0.05,"y":5.0},{"k":"t","x":3.02,"y":9.93},{"k":"l","x":9.85,"y":7.31}]},
   "mark": {"type": "point", "filled": true, "color": "#111111", "size": 22, "opacity": 1},
   "encoding": {"x": {"field": "x", "type": "quantitative", "axis": null}, "y": {"field": "y", "type": "quantitative", "axis": null}, "shape": {"field": "k", "type": "nominal", "scale": {"domain": ["g", "t", "l"], "range": ["triangle-right", "triangle-down", "triangle-left"]}, "legend": null}}},
  {"data": {"values": [{"x":8.76,"y":8.84,"x2":7.8,"y2":8.84}]},
   "mark": {"type": "rule", "color": "#111111", "strokeWidth": 1},
   "encoding": {"x": {"field": "x", "type": "quantitative", "axis": null}, "y": {"field": "y", "type": "quantitative", "axis": null}, "x2": {"field": "x2"}, "y2": {"field": "y2"}}},
  {"data": {"values": [{"x":7.66,"y":8.84}]},
   "mark": {"type": "point", "shape": "M0,0L2,-0.5L2,0.5Z", "filled": true, "color": "#111111", "size": 150, "opacity": 1},
   "encoding": {"x": {"field": "x", "type": "quantitative", "axis": null}, "y": {"field": "y", "type": "quantitative", "axis": null}}},
  {"data": {"values": [{"t":"I","x":-1.15,"y":7.10},{"t":"V","x":-1.12,"y":5.09},{"t":"V","x":0.55,"y":8.89}]},
   "mark": {"type": "text", "fontSize": 15.5},
   "encoding": {"x": {"field": "x", "type": "quantitative", "axis": null}, "y": {"field": "y", "type": "quantitative", "axis": null}, "text": {"field": "t", "type": "nominal"}}},
  {"data": {"values": [{"t":"(AC)","x":-1.07,"y":4.55},{"t":"1A/div","x":10.14,"y":7.13},{"t":"100mV/div","x":10.2,"y":4.82},{"t":"= 14V","x":1.28,"y":8.89},{"t":"FPWM","x":0.55,"y":8.35},{"t":"1A","x":8.99,"y":8.68}]},
   "mark": {"type": "text"},
   "encoding": {"x": {"field": "x", "type": "quantitative", "axis": null}, "y": {"field": "y", "type": "quantitative", "axis": null}, "text": {"field": "t", "type": "nominal"}}},
  {"data": {"values": [{"t":"LOAD","x":-1.03,"y":7.10},{"t":"OUT","x":-0.83,"y":5.09},{"t":"IN","x":0.85,"y":8.89}]},
   "mark": {"type": "text", "fontSize": 10.5, "dy": 3},
   "encoding": {"x": {"field": "x", "type": "quantitative", "axis": null}, "y": {"field": "y", "type": "quantitative", "axis": null}, "text": {"field": "t", "type": "nominal"}}},
  {"data": {"values": [{"t":"20µs/div","x":5.01,"y":-0.63}]},
   "mark": {"type": "text", "align": "center"},
   "encoding": {"x": {"field": "x", "type": "quantitative", "axis": null}, "y": {"field": "y", "type": "quantitative", "axis": null}, "text": {"field": "t", "type": "nominal"}}},
  {"data": {"values": [{"t":"toc18","x":10,"y":10.15}]},
   "mark": {"type": "text", "align": "right", "fontSize": 10},
   "encoding": {"x": {"field": "x", "type": "quantitative", "axis": null}, "y": {"field": "y", "type": "quantitative", "axis": null}, "text": {"field": "t", "type": "nominal"}}},
  {"data": {"values": [{"t":"LOAD-TRANSIENT RESPONSE","x":5.03,"y":11.29}]},
   "mark": {"type": "text", "align": "center", "fontSize": 16, "fontWeight": "bold"},
   "encoding": {"x": {"field": "x", "type": "quantitative", "axis": null}, "y": {"field": "y", "type": "quantitative", "axis": null}, "text": {"field": "t", "type": "nominal"}}},
  {"data": {"values": [{"t":"(1.8V","x":5.07,"y":10.48}]},
   "mark": {"type": "text", "align": "right", "fontSize": 16, "fontWeight": "bold"},
   "encoding": {"x": {"field": "x", "type": "quantitative", "axis": null}, "y": {"field": "y", "type": "quantitative", "axis": null}, "text": {"field": "t", "type": "nominal"}}},
  {"data": {"values": [{"t":"OUT","x":5.07,"y":10.48}]},
   "mark": {"type": "text", "fontSize": 11.5, "fontWeight": "bold", "dy": 3},
   "encoding": {"x": {"field": "x", "type": "quantitative", "axis": null}, "y": {"field": "y", "type": "quantitative", "axis": null}, "text": {"field": "t", "type": "nominal"}}},
  {"data": {"values": [{"t":")","x":5.82,"y":10.48}]},
   "mark": {"type": "text", "fontSize": 16, "fontWeight": "bold"},
   "encoding": {"x": {"field": "x", "type": "quantitative", "axis": null}, "y": {"field": "y", "type": "quantitative", "axis": null}, "text": {"field": "t", "type": "nominal"}}}
 ]
}
]
}
]
}
